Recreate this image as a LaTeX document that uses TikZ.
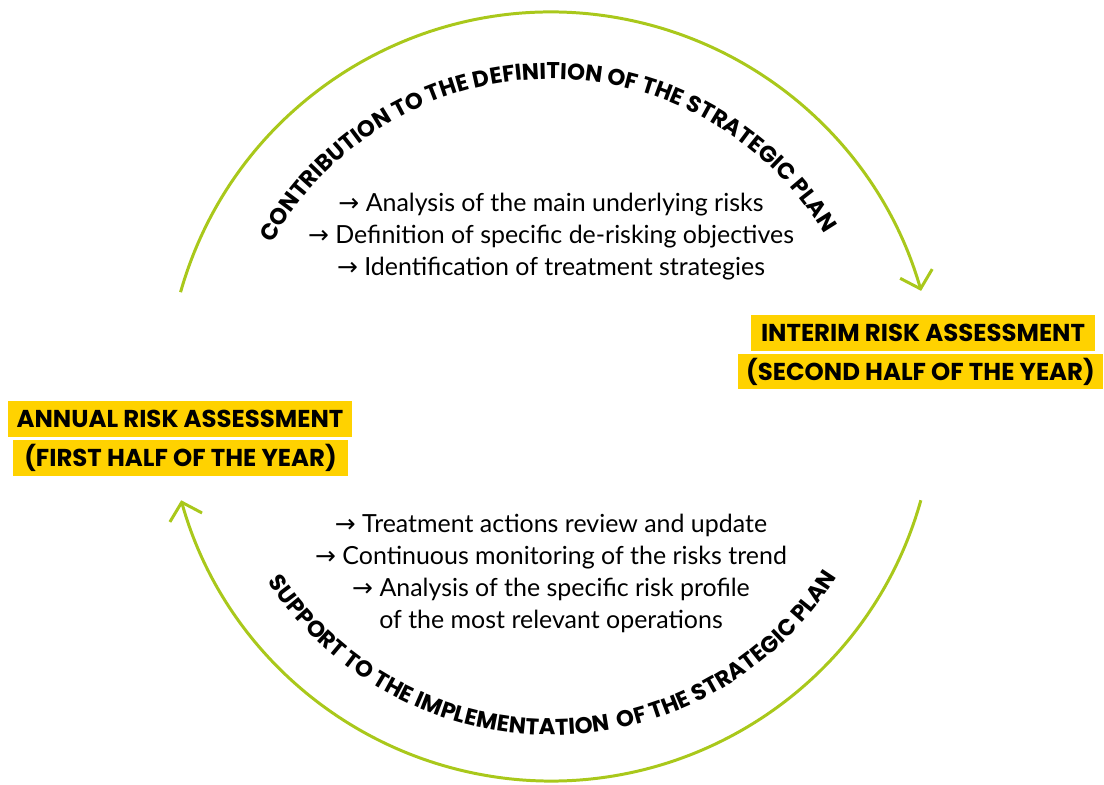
\documentclass[tikz,border=0pt]{standalone}
\usepackage{fontspec}
\setmainfont{Lato}
\newfontfamily\headfont{Poppins}
\newfontfamily\symfont{DejaVu Sans}
\usetikzlibrary{arrows.meta,decorations.text}
\definecolor{cyclegreen}{HTML}{A9C81B}
\definecolor{labelyellow}{HTML}{FFD200}
\newcommand{\rarr}{{\symfont\char"2192}}
\newcommand{\capsfont}{\headfont\bfseries\fontsize{13}{13}\selectfont}

\begin{document}
\begin{tikzpicture}[x=0.02cm,y=0.02cm,
  cycle/.style={cyclegreen,line width=1.7pt,-{Straight Barb[length=9pt,width=19pt]}},
  phase/.style={fill=labelyellow,minimum height=20.4pt,inner sep=0pt,
    font=\headfont\bfseries\fontsize{13.9}{13.9}\selectfont},
  items/.style={align=center,font=\fontsize{14.2}{18.2}\selectfont}]
  \useasboundingbox (0,0) rectangle (1104,784);
  \coordinate (ctr) at (551,387);

  % the two halves of the cycle
  \draw[cycle] (ctr) ++(164.2:385) arc[start angle=164.2,end angle=16,radius=385];
  \draw[cycle] (ctr) ++(-15.6:384) arc[start angle=-15.6,end angle=-164.4,radius=384];

  % curved titles
  \path[decorate,decoration={text along path,text align=center,
    text={|\capsfont|CONTRIBUTION TO THE DEFINITION OF THE STRATEGIC PLAN}}]
    (ctr) ++(161:318) arc[start angle=161,end angle=21,radius=318];
  \path[decorate,decoration={text along path,text align=center,
    text={|\capsfont|SUPPORT TO THE IMPLEMENTATION{\kern2pt} OF THE STRATEGIC PLAN}}]
    (ctr) ++(200:338) arc[start angle=200,end angle=341,radius=338];

  \node[items] (planitems) at (551,547) {\rarr\ Analysis of the main underlying risks\\
    \rarr\ Definition of specific de-risking objectives\\
    \rarr\ Identification of treatment strategies};
  \node[items] (impitems) at (551,211) {\rarr\ Treatment actions review and update\\
    \rarr\ Continuous monitoring of the risks trend\\
    \rarr\ Analysis of the specific risk profile\\
    of the most relevant operations};

  \node[phase,minimum width=196pt] (interim) at (923,451) {INTERIM RISK ASSESSMENT};
  \node[phase,minimum width=208pt] (interimhalf) at (920.5,412.5) {(SECOND HALF OF THE YEAR)};
  \node[phase,minimum width=196pt] (annual) at (180,365) {ANNUAL RISK ASSESSMENT};
  \node[phase,minimum width=191pt] (annualhalf) at (180.5,326) {(FIRST HALF OF THE YEAR)};
\end{tikzpicture}
\end{document}
